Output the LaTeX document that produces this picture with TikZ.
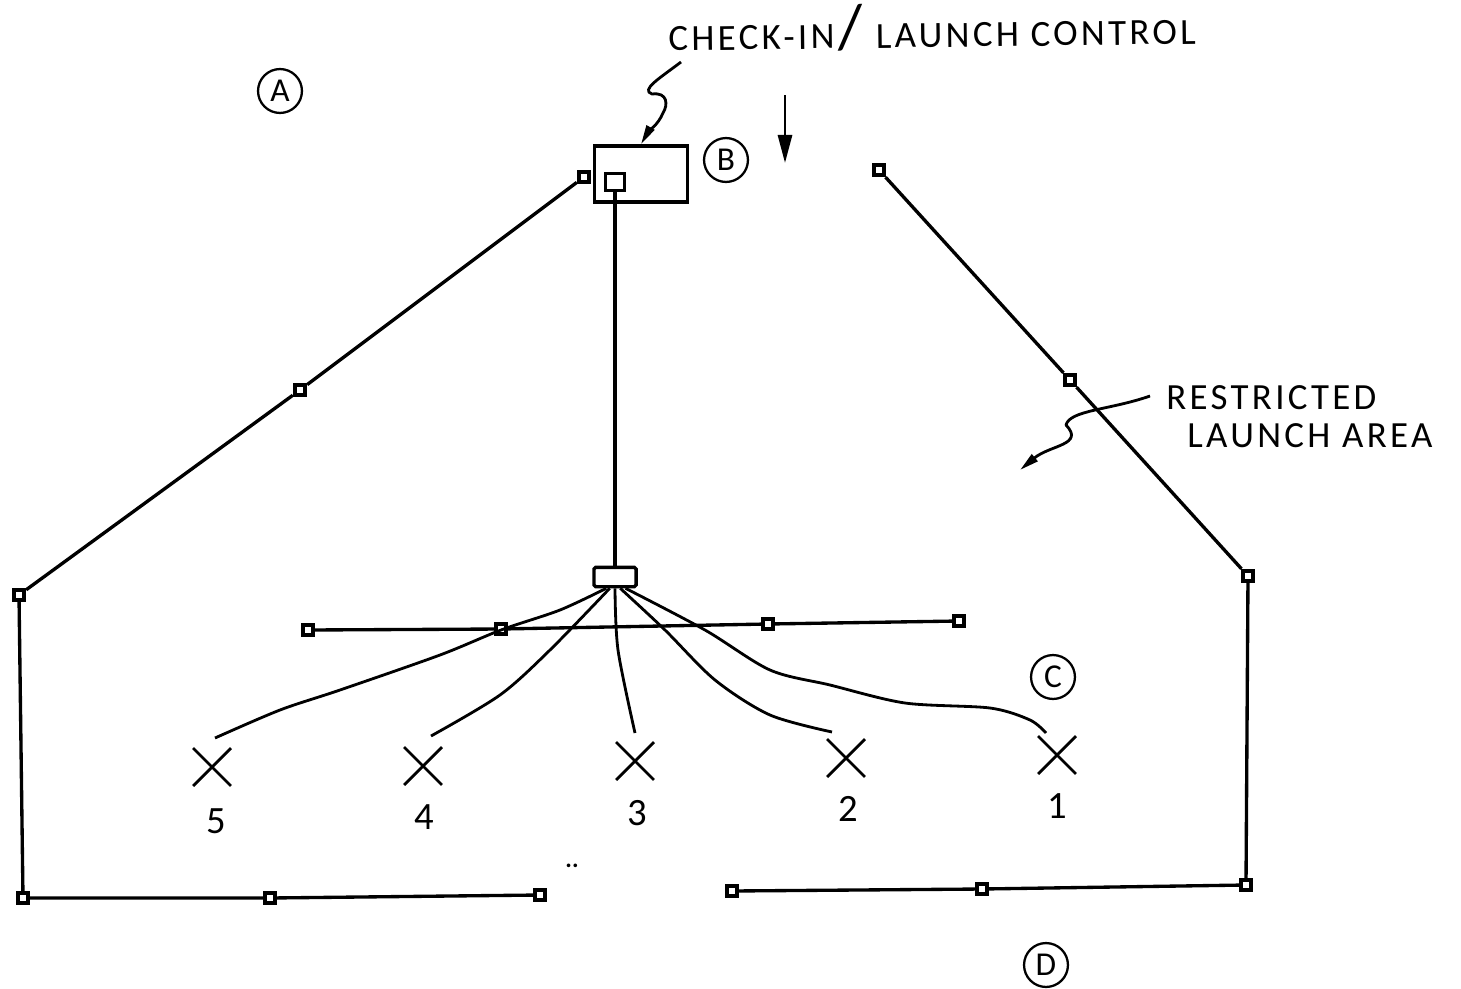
\documentclass[tikz,border=0pt]{standalone}
\usepackage{fontspec}
\setmainfont{Carlito}
\newfontfamily\handfont[LetterSpace=9]{Carlito}
\usetikzlibrary{arrows.meta}
\usetikzlibrary{shapes.misc}
\tikzset{
    post/.style={draw, fill=white, line width=2.2pt, minimum size=6pt, inner sep=0pt},
    fence/.style={line width=1.9pt},
    wire/.style={line width=1.6pt, line join=round},
    zone/.style={draw, circle, line width=1.3pt, minimum size=25pt, inner sep=0pt, font=\handfont\fontsize{19}{19}\selectfont},
    site/.style={draw, cross out, line width=1.6pt, minimum size=20pt, inner sep=0pt},
    lbl/.style={inner sep=0pt, font=\handfont\fontsize{21}{21}\selectfont},
    num/.style={inner sep=0pt, font=\fontsize{22}{22}\selectfont},
}
\begin{document}
\begin{tikzpicture}[x=0.02cm, y=-0.02cm]
    \useasboundingbox (0, 0) rectangle (1461, 988);

    % fence posts
    \node[post] (pa) at (584, 177) {};
    \node[post] (pb) at (300, 390) {};
    \node[post] (pc) at (19, 595) {};
    \node[post] (pd) at (23, 898) {};
    \node[post] (pe) at (270, 898) {};
    \node[post] (pf) at (540, 895) {};
    \node[post] (pg) at (732, 891) {};
    \node[post] (ph) at (982, 889) {};
    \node[post] (pi) at (1246, 885) {};
    \node[post] (pj) at (1248, 576) {};
    \node[post] (pk) at (1070, 380) {};
    \node[post] (pl) at (879, 170) {};
    \draw[fence] (pa) -- (pb) -- (pc) -- (pd) -- (pe) -- (pf);
    \draw[fence] (pg) -- (ph) -- (pi) -- (pj) -- (pk) -- (pl);

    % launch line
    \node[post] (la) at (308, 630) {};
    \node[post] (lb) at (501, 629) {};
    \node[post] (lc) at (768, 624) {};
    \node[post] (ld) at (959, 621) {};
    \draw[fence] (la) -- (lb) -- (lc) -- (ld);

    % control box and hub
    \node[draw, fence, minimum width=53pt, minimum height=32pt, inner sep=0pt] (box) at (641, 174) {};
    \node[draw, fill=white, fence, minimum width=11pt, minimum height=10pt, inner sep=0pt] (unit) at (615, 182) {};
    \node[draw, fill=white, fence, rounded corners=1pt, minimum width=24pt, minimum height=11pt, inner sep=0pt] (hub) at (615, 577) {};
    \draw[fence] (unit) -- (hub);

    % launch sites
    \node[site] (s5) at (212, 767) {};
    \node[site] (s4) at (423, 766) {};
    \node[site] (s3) at (635, 761) {};
    \node[site] (s2) at (846, 758) {};
    \node[site] (s1) at (1057, 755) {};
    \node[num] (n5) at (216, 821) {5};
    \node[num] (n4) at (424, 817) {4};
    \node[num] (n3) at (637, 813) {3};
    \node[num] (n2) at (848, 809) {2};
    \node[num] (n1) at (1057, 806) {1};

    \coordinate (e5) at (215, 738);
    \coordinate (e4) at (431, 736);
    \coordinate (e3) at (635, 733);
    \coordinate (e2) at (832, 732);
    \coordinate (e1) at (1046, 733);
    \draw[wire] plot[smooth, tension=0.5] coordinates {([xshift=-5pt]hub.south) (560, 610) (501, 630) (440, 655) (340, 690) (280, 710) (e5)};
    \draw[wire] plot[smooth, tension=0.5] coordinates {([xshift=-3pt]hub.south) (550, 650) (500, 695) (e4)};
    \draw[wire] plot[smooth, tension=0.5] coordinates {(hub.south) (618, 650) (e3)};
    \draw[wire] plot[smooth, tension=0.5] coordinates {([xshift=3pt]hub.south) (665, 630) (715, 680) (770, 715) (e2)};
    \draw[wire] plot[smooth, tension=0.5] coordinates {([xshift=6pt]hub.south) (705, 630) (770, 670) (830, 685) (905, 703) (990, 708) (1030, 720) (e1)};

    % labels
    \node[zone] (za) at (280, 91) {A};
    \node[zone] (zb) at (726, 160) {B};
    \node[zone] (zc) at (1053, 677) {C};
    \node[zone] (zd) at (1046, 965) {D};
    \node[lbl, anchor=west, rotate=0.7] (check) at (668, 30) {CHECK-IN\kern2pt{\fontsize{36}{36}\selectfont/}\kern1pt\ LAUNCH CONTROL};
    \node[lbl, anchor=west] (rest) at (1166, 398) {RESTRICTED};
    \node[lbl, anchor=west] (area) at (1187, 436) {LAUNCH AREA};

    % arrows
    \coordinate (ca) at (785, 95);
    \coordinate (cb) at (785, 163);
    \draw[wire, -{Triangle[length=16pt, width=8pt]}] (ca) -- (cb);
    \coordinate (ta) at (681, 62);
    \draw[wire, -{Triangle[length=11pt, width=5pt]}] (ta) .. controls (660, 78) and (640, 90) .. (652, 94) .. controls (668, 92) and (668, 105) .. (663, 113) .. controls (658, 125) and (648, 132) .. (box.north);
    \coordinate (ra) at (1150, 396);
    \coordinate (rb) at (1020, 470);
    \draw[wire, -{Triangle[length=11pt, width=5pt]}] (ra) .. controls (1110, 410) and (1070, 410) .. (1066, 425) .. controls (1085, 445) and (1050, 445) .. (rb);

    % stray marks
    \node[inner sep=0pt, font=\bfseries\fontsize{14}{14}\selectfont] (dots) at (572, 866) {..};
\end{tikzpicture}
\end{document}
